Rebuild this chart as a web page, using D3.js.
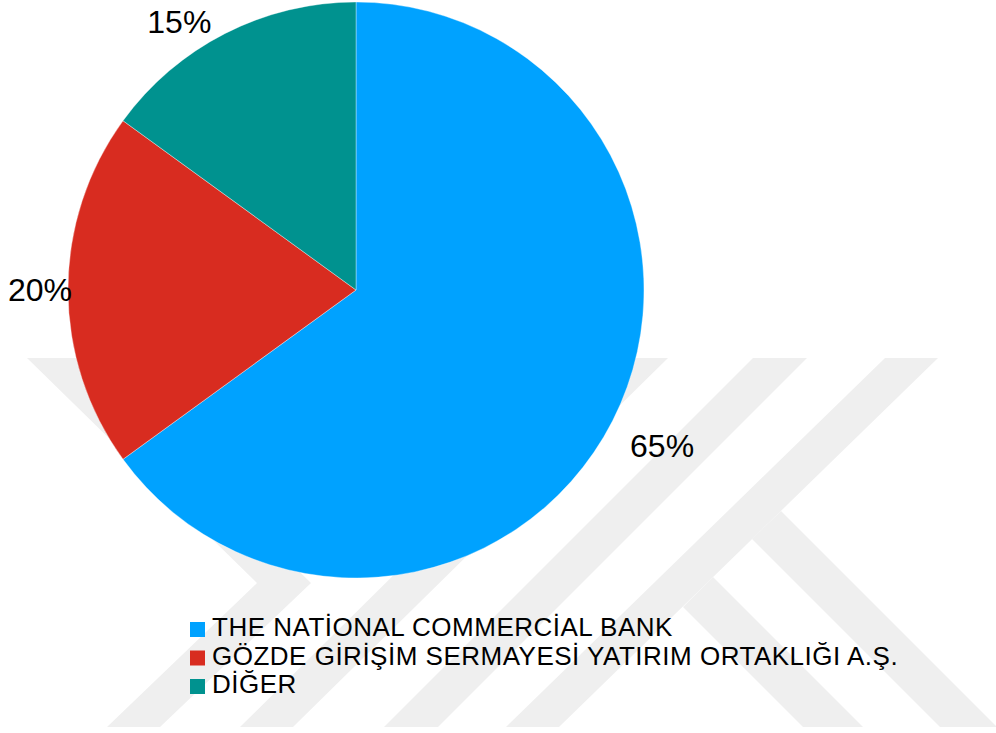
<!DOCTYPE html>
<html>
<head>
<meta charset="utf-8">
<script src="https://d3js.org/d3.v7.min.js"></script>
<style>
  * { margin: 0; padding: 0; }
  body { background: #fff; font-family: "Liberation Sans", Arial, sans-serif; }
  svg { display: block; }
</style>
</head>
<body>
<svg id="chart"></svg>
<script>
  // data
  const names = ["THE NATİONAL COMMERCİAL BANK", "GÖZDE GİRİŞİM SERMAYESİ YATIRIM ORTAKLIĞI A.Ş.", "DİĞER"];
  const shares = [65, 20, 15];
  const colors = ["#00a2ff", "#d82c20", "#00928f"];

  const width = 996, height = 733;
  const cx = 356, cy = 290, R = 288;

  const svg = d3.select("#chart").attr("width", width).attr("height", height);

  // faint watermark in the background
  const mark = [
    [[27,358],[82,358],[311,583],[160,727],[107,727],[257,583]],
    [[613,358],[668,358],[293,727],[240,727]],
    [[753,358],[807,358],[438,727],[384,727]],
    [[885,358],[938,358],[559,727],[506,727]],
    [[781,511],[997,727],[940,727],[752,539]],
    [[713,577],[863,727],[803,727],[683,607]]
  ];
  svg.append("g").selectAll("polygon")
    .data(mark)
    .enter().append("polygon")
    .attr("points", d => d.map(p => p.join(",")).join(" "))
    .attr("fill", "#efefef");

  const color = d3.scaleOrdinal().domain(names).range(colors);

  const pie = d3.pie().sort(null).value(d => d.v);
  const arcs = pie(names.map((n, i) => ({ name: n, v: shares[i] })));
  const arc = d3.arc().innerRadius(0).outerRadius(R);

  const g = svg.append("g").attr("transform", `translate(${cx},${cy})`);

  g.selectAll("path")
    .data(arcs)
    .enter().append("path")
    .attr("d", arc)
    .attr("fill", d => color(d.data.name))
    .attr("stroke", "#ffffff")
    .attr("stroke-opacity", 0.6)
    .attr("stroke-width", 0.6);

  // percentage labels, outside end, pushed back inside the chart area
  const total = d3.sum(shares);
  const gap = 22, hh = 11;
  g.selectAll("text.lbl")
    .data(arcs)
    .enter().append("text")
    .attr("class", "lbl")
    .attr("text-anchor", "middle")
    .attr("dy", "0.35em")
    .style("font-size", "32px")
    .attr("fill", "#000")
    .text(d => Math.round(d.data.v / total * 100) + "%")
    .each(function(d) {
      const hw = this.getComputedTextLength() / 2;
      const a = (d.startAngle + d.endAngle) / 2;
      const ux = Math.sin(a), uy = -Math.cos(a);
      const dist = R + gap + Math.abs(ux) * hw + Math.abs(uy) * hh;
      let x = ux * dist, y = uy * dist;
      const top = 11 - cy + hh;
      if (y < top) {
        // slide along the circle until the label fits under the top edge
        const d2 = R + gap + hh;
        y = top;
        x = Math.sign(ux) * Math.sqrt(Math.max(d2 * d2 - y * y, 0));
      }
      const left = 8 - cx + hw;
      if (x < left) x = left;
      d3.select(this).attr("x", x).attr("y", y);
    });

  // legend
  const ly = d3.scalePoint().domain(names).range([636, 693]);
  const leg = svg.append("g").selectAll("g")
    .data(names)
    .enter().append("g")
    .attr("transform", d => `translate(190,${ly(d)})`);

  leg.append("rect")
    .attr("x", 0).attr("y", -14)
    .attr("width", 15).attr("height", 15)
    .attr("fill", d => color(d));

  leg.append("text")
    .attr("x", 22).attr("y", 0)
    .style("font-size", "26px")
    .style("letter-spacing", "0.5px")
    .attr("fill", "#000")
    .text(d => d);
</script>
</body>
</html>
